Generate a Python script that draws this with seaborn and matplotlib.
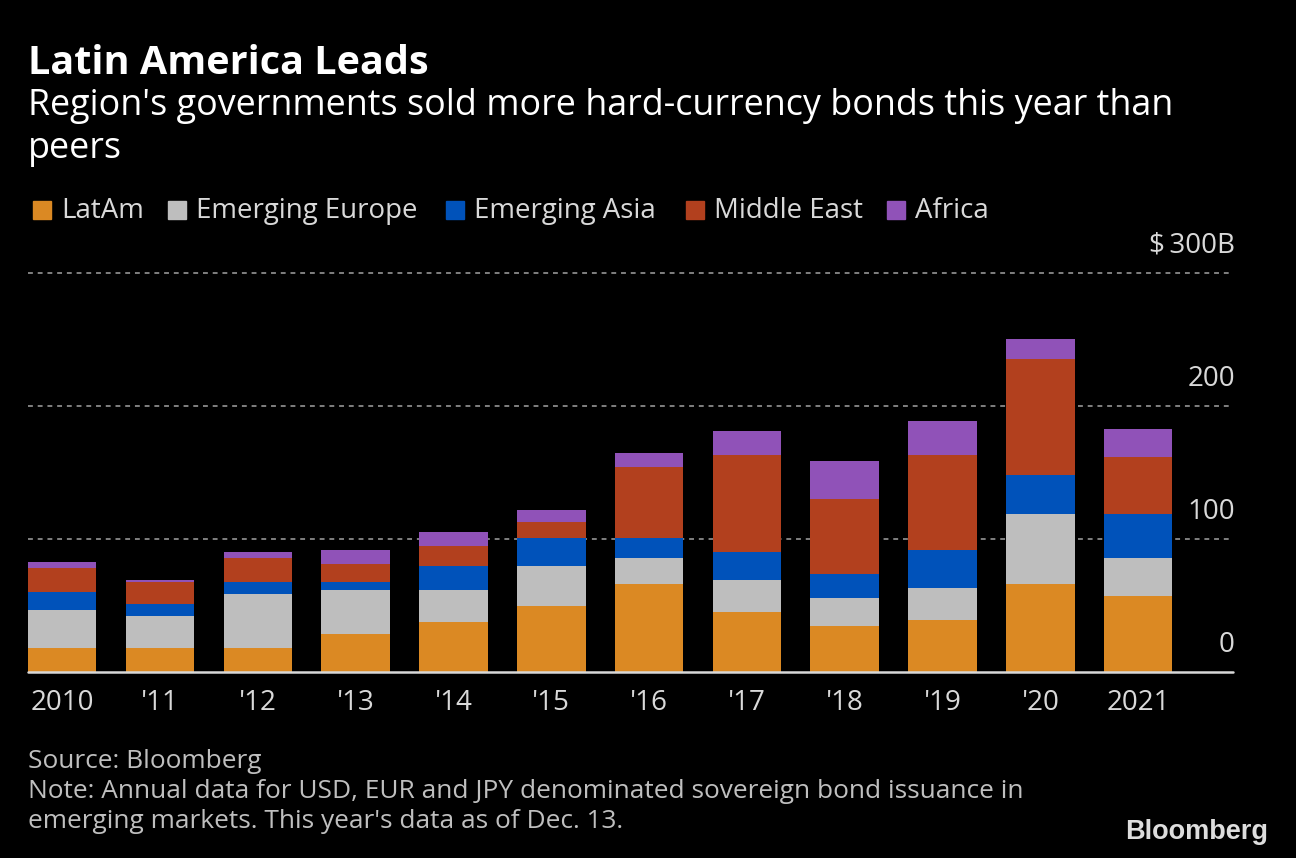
import numpy as np
import pandas as pd
import matplotlib
matplotlib.use("Agg")
import matplotlib.pyplot as plt
import seaborn as sns

years = ["2010", "'11", "'12", "'13", "'14", "'15", "'16", "'17", "'18", "'19", "'20", "2021"]
latam = [18.1, 18.1, 18.1, 28.6, 37.7, 49.8, 66.3, 45.2, 34.7, 39.2, 66.3, 57.3]
em_europe = [28.6, 24.1, 40.7, 33.2, 24.1, 30.1, 19.6, 24.2, 21.1, 24.1, 52.8, 28.6]
em_asia = [13.6, 9.1, 9.0, 6.0, 18.1, 21.1, 15.1, 21.1, 18.1, 28.7, 28.7, 33.2]
middle_east = [18.1, 16.5, 18.1, 13.6, 15.1, 12.1, 52.8, 72.3, 55.8, 70.8, 87.4, 42.2]
africa = [4.5, 1.5, 4.5, 10.6, 10.5, 9.0, 10.5, 18.1, 28.6, 25.7, 15.1, 21.1]

series_names = ["LatAm", "Emerging Europe", "Emerging Asia", "Middle East", "Africa"]
series_vals = [latam, em_europe, em_asia, middle_east, africa]
colors = ["#DB8923", "#BEBEBE", "#0052BA", "#B2401E", "#9052B8"]
ytick_vals = [0, 100, 200, 300]
ytick_labels = ["0", "100", "200", "$\u2009300B"]

sns.set_theme(style="dark")
plt.rcParams['font.family'] = ['Open Sans', 'DejaVu Sans']

fig = plt.figure(figsize=(12.96, 8.58), dpi=100, facecolor="black")
ax = fig.add_axes([0.0216, 0.2168, 0.9298, 0.465])
ax.set_facecolor("black")

cum = np.cumsum(np.array(series_vals), axis=0)
# draw from top (total) down so lower segments overlay
for i in range(len(series_names) - 1, -1, -1):
    df = pd.DataFrame({"year": years, "value": cum[i]})
    sns.barplot(data=df, x="year", y="value", color=colors[i], width=0.7,
                saturation=1, ax=ax, linewidth=0, zorder=3)

ax.set_xlim(-0.35, 11.97)
ax.set_ylim(0, 300)
for s in ax.spines.values():
    s.set_visible(False)

# gridlines
for v in ytick_vals[1:]:
    ax.axhline(v, color="#808080", lw=1.4, ls=(0, (2.5, 2.5)), zorder=1, clip_on=False)
ax.axhline(0, color="#d8d8d8", lw=1.8, zorder=5, clip_on=False)

# y labels above gridlines at right
for v, lab in zip(ytick_vals, ytick_labels):
    ax.text(1.0015, v + 20.5, lab, transform=ax.get_yaxis_transform(), ha="right", va="center",
            color="#d9d9d9", fontsize=20)
ax.set_yticks([])
ax.set_ylabel("")
ax.set_xlabel("")
ax.set_xticks(range(len(years)))
ax.set_xticklabels(years, color="#d9d9d9", fontsize=20)
ax.tick_params(axis="x", length=0, pad=12)
ax.grid(False)

# titles
fig.text(28/1296, 1 - 64/858, "Latin America Leads", color="white", fontsize=28.5,
         fontweight="bold", ha="left", va="center")
fig.text(28/1296, 1 - 106/858, "Region's governments sold more hard-currency bonds this year than",
         color="white", fontsize=25.8, ha="left", va="center")
fig.text(28/1296, 1 - 149/858, "peers", color="white", fontsize=25.8, ha="left", va="center")

# legend
leg_x = [33, 168, 446, 686, 887]
for x, name, c in zip(leg_x, series_names, colors):
    fig.patches.append(plt.Rectangle((x/1296, 1 - 219/858), 18/1296, 18/858,
                                     transform=fig.transFigure, color=c, figure=fig))
    fig.text((x + 28)/1296, 1 - 211/858, name, color="#d9d9d9", fontsize=19.9,
             ha="left", va="center")

# footer
fig.text(28/1296, 1 - 762/858, "Source: Bloomberg", color="#bfbfbf", fontsize=18.9, ha="left", va="center")
fig.text(28/1296, 1 - 792/858,
         "Note: Annual data for USD, EUR and JPY denominated sovereign bond issuance in",
         color="#bfbfbf", fontsize=18.9, ha="left", va="center")
fig.text(28/1296, 1 - 822/858, "emerging markets. This year's data as of Dec. 13.",
         color="#bfbfbf", fontsize=18.9, ha="left", va="center")
fig.text(1268/1296, 1 - 832/858, "Bloomberg", color="#dddddd", fontsize=19.5,
         fontweight="bold", ha="right", va="center", family=["Liberation Sans", "DejaVu Sans"])

fig.savefig("out.png", dpi=100, facecolor="black")
